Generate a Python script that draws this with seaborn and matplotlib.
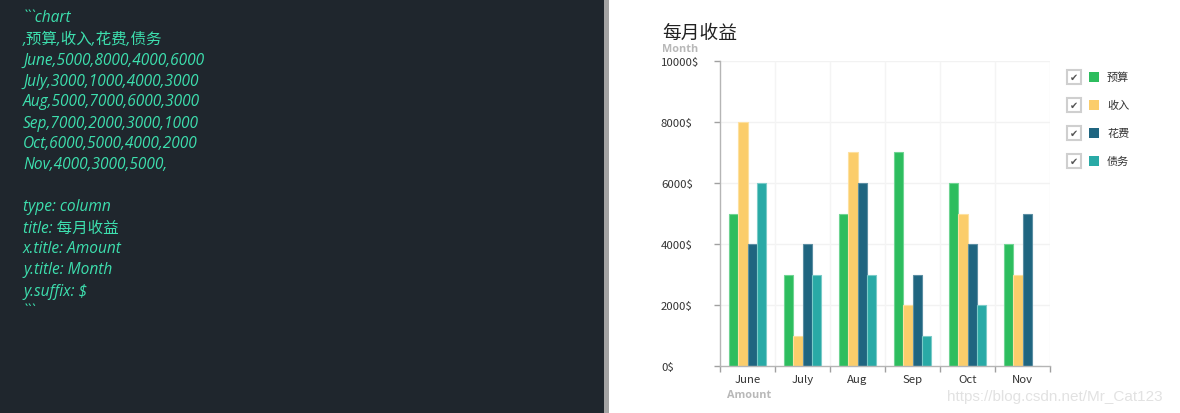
import numpy as np
import pandas as pd
import matplotlib
matplotlib.use("Agg")
import matplotlib.pyplot as plt
from matplotlib.patches import Rectangle
import seaborn as sns

# ---- data ----
months = ["June", "July", "Aug", "Sep", "Oct", "Nov"]
series = ["预算", "收入", "花费", "债务"]
budget = [5000, 3000, 5000, 7000, 6000, 4000]
income = [8000, 1000, 7000, 2000, 5000, 3000]
spend = [4000, 4000, 6000, 3000, 4000, 5000]
debt = [6000, 3000, 3000, 1000, 2000, 0]   # Nov value missing in source
yticks = [0, 2000, 4000, 6000, 8000, 10000]
ytick_labels = [f"{v}$" for v in yticks]
colors = ["#2dbd5e", "#fbcd6b", "#1f6580", "#29aaa6"]
edge_colors = ["#6fd493", "#fde0a0", "#5b8ea3", "#7acbc8"]

source_lines = [
    "```chart",
    ",预算,收入,花费,债务",
    "June,5000,8000,4000,6000",
    "July,3000,1000,4000,3000",
    "Aug,5000,7000,6000,3000",
    "Sep,7000,2000,3000,1000",
    "Oct,6000,5000,4000,2000",
    "Nov,4000,3000,5000,",
    "",
    "type: column",
    "title: 每月收益",
    "x.title: Amount",
    "y.title: Month",
    "y.suffix: $",
    "```",
]

values = {series[0]: budget, series[1]: income, series[2]: spend, series[3]: debt}
rows = []
for s in series:
    for m, v in zip(months, values[s]):
        rows.append({"month": m, "series": s, "value": v})
df = pd.DataFrame(rows)

sns.set_theme(style="white")
plt.rcParams["font.family"] = ["Noto Sans CJK SC", "DejaVu Sans"]

W, H = 1180, 414
fig = plt.figure(figsize=(W / 100, H / 100), dpi=100)
fig.patch.set_facecolor("white")

def fx(px):
    return px / W

def fy(py):
    return 1 - py / H

# left editor panel
fig.patches.append(Rectangle((0, 0), fx(604), 1, transform=fig.transFigure,
                             facecolor="#1f262d", edgecolor="none", zorder=0))
fig.patches.append(Rectangle((fx(604), 0), fx(5), 1, transform=fig.transFigure,
                             facecolor="#a3a3a3", edgecolor="none", zorder=0))
for i, line in enumerate(source_lines):
    if not line:
        continue
    fig.text(fx(23), fy(18.5 + 21 * i), line, color="#3ddfae", fontsize=11.2,
             style="italic", va="center", ha="left",
             family=["Open Sans", "Noto Sans CJK SC", "DejaVu Sans"])

# chart axes
ax = fig.add_axes([fx(720), fy(367), fx(1050) - fx(720), fy(62) - fy(367)])
sns.barplot(data=df, x="month", y="value", hue="series", hue_order=series,
            order=months, palette=colors, width=0.68, gap=0, ax=ax,
            legend=False, errorbar=None, saturation=1)
for ci, cont in enumerate(ax.containers):
    for p in cont.patches:
        p.set_edgecolor(edge_colors[ci])
        p.set_linewidth(0.8)

ax.set_xlim(-0.5, len(months) - 0.5)
ax.set_ylim(0, 10000)
ax.set_yticks(yticks)
ax.set_yticklabels(ytick_labels)
ax.set_xlabel("")
ax.set_ylabel("")
for s in ["top", "right"]:
    ax.spines[s].set_visible(False)
ax.spines["left"].set_color("#b5b5b5")
ax.spines["bottom"].set_color("#b5b5b5")
ax.spines["left"].set_linewidth(1)
ax.spines["bottom"].set_linewidth(1)

ax.set_xticks(np.arange(len(months)))
ax.set_xticks(np.arange(len(months) + 1) - 0.5, minor=True)
ax.tick_params(axis="x", which="major", length=0, pad=6, labelsize=8.2,
               labelcolor="#333333")
ax.tick_params(axis="x", which="minor", length=4, width=1, color="#a0a0a0",
               direction="out")
ax.tick_params(axis="y", which="major", length=4, width=1, color="#a0a0a0",
               direction="out", pad=38.5, labelsize=8.2, labelcolor="#333333")
for lab in ax.get_yticklabels():
    lab.set_horizontalalignment("left")
ax.xaxis.set_ticks_position("bottom")
ax.yaxis.set_ticks_position("left")

ax.grid(False)
ax.set_axisbelow(True)
for v in yticks[1:]:
    ax.axhline(v, color="#f2f2f2", linewidth=1, zorder=0)
for v in (np.arange(len(months)) + 0.5):
    ax.axvline(v, color="#f4f4f4", linewidth=1, zorder=0)

# titles
fig.text(fx(662), fy(33), "每月收益", fontsize=13.5, color="#222222",
         va="center", ha="left")
fig.text(fx(662), fy(49), "Month", fontsize=7.8, color="#b8b8b8",
         fontweight="bold", va="center", ha="left",
         family=["Open Sans", "DejaVu Sans"])
fig.text(fx(727), fy(396), "Amount", fontsize=7.8, color="#b8b8b8",
         fontweight="bold", va="center", ha="left",
         family=["Open Sans", "DejaVu Sans"])

# legend with checkboxes
for i, name in enumerate(series):
    yc = 78 + 28 * i
    fig.patches.append(Rectangle((fx(1067), fy(yc + 7)), fx(14), 14 / H,
                                 transform=fig.transFigure, facecolor="white",
                                 edgecolor="#cfcfcf", linewidth=1.5))
    fig.text(fx(1074), fy(yc), "✔", fontsize=7, color="#555555",
             ha="center", va="center", family=["DejaVu Sans"])
    fig.patches.append(Rectangle((fx(1089), fy(yc + 5)), fx(10), 10 / H,
                                 transform=fig.transFigure,
                                 facecolor=colors[i], edgecolor="none"))
    fig.text(fx(1107), fy(yc), name, fontsize=8, color="#333333",
             ha="left", va="center")

# watermark
fig.text(fx(947), fy(397), "https://blog.csdn.net/Mr_Cat123", fontsize=11,
         color="#e2e2e2", ha="left", va="center",
         family=["Liberation Sans", "DejaVu Sans"])

fig.savefig("out.png", dpi=100, facecolor="white")
